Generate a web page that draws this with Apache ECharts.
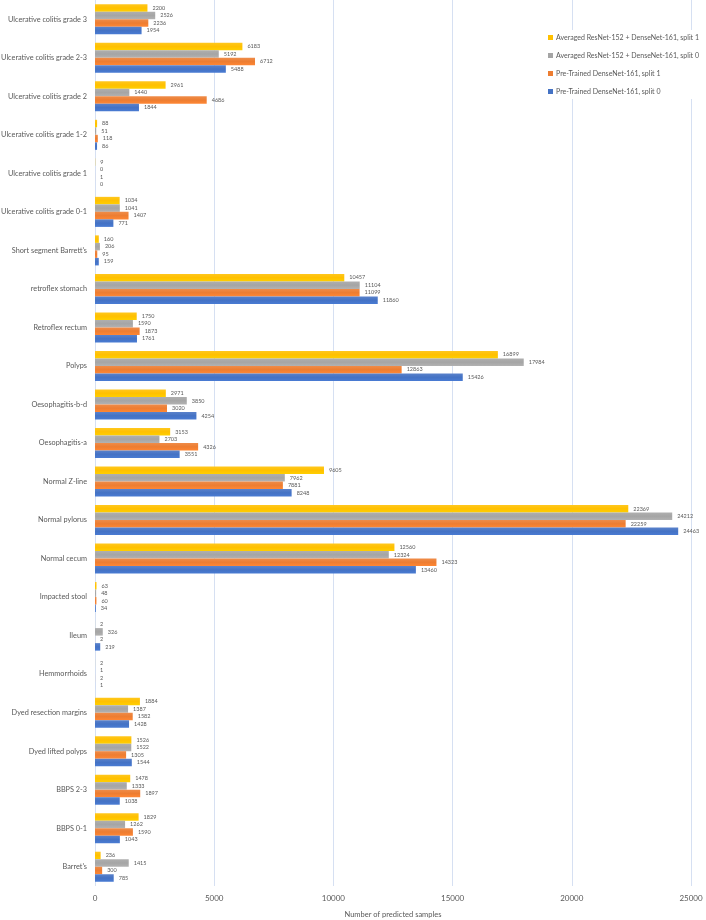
<!DOCTYPE html>
<html>
<head>
<meta charset="utf-8">
<script src="https://cdn.jsdelivr.net/npm/echarts@6/dist/echarts.min.js"></script>
<style>html,body{margin:0;padding:0;background:#fff}#c{width:706px;height:920px}</style>
</head>
<body>
<div id="c"></div>
<script>
const categories = ["Barret's","BBPS 0-1","BBPS 2-3","Dyed lifted polyps","Dyed resection margins","Hemmorrhoids","Ileum","Impacted stool","Normal cecum","Normal pylorus","Normal Z-line","Oesophagitis-a","Oesophagitis-b-d","Polyps","Retroflex rectum","retroflex stomach","Short segment Barrett's","Ulcerative colitis grade 0-1","Ulcerative colitis grade 1","Ulcerative colitis grade 1-2","Ulcerative colitis grade 2","Ulcerative colitis grade 2-3","Ulcerative colitis grade 3"];
const averagedSplit1 = [236,1829,1478,1526,1884,2,2,63,12560,22369,9605,3153,2971,16899,1750,10457,160,1034,9,88,2961,6183,2200];
const averagedSplit0 = [1415,1262,1333,1522,1387,1,326,48,12324,24212,7962,2703,3850,17984,1590,11104,206,1041,0,51,1440,5192,2526];
const pretrainedSplit1 = [300,1590,1897,1305,1582,2,2,60,14323,22259,7881,4326,3020,12863,1873,11099,95,1407,1,118,4686,6712,2236];
const pretrainedSplit0 = [785,1043,1038,1544,1428,1,219,34,13460,24463,8248,3551,4254,15426,1761,11860,159,771,0,86,1844,5488,1954];
const seriesNames = ["Averaged ResNet-152 + DenseNet-161, split 1","Averaged ResNet-152 + DenseNet-161, split 0","Pre-Trained DenseNet-161, split 1","Pre-Trained DenseNet-161, split 0"];
const xTicks = {min:0,max:25000,interval:5000};

const colors = ['#FFC000','#A5A5A5','#ED7D31','#4472C4'];
const datasets = [averagedSplit1, averagedSplit0, pretrainedSplit1, pretrainedSplit0];
const font = 'Lato, "Open Sans", sans-serif';

function grad(c){
  return new echarts.graphic.LinearGradient(0,0,0,1,[
    {offset:0,color:echarts.color.lift(c,0.12)},
    {offset:0.5,color:c},
    {offset:1,color:echarts.color.lift(c,-0.08)}
  ]);
}

const chart = echarts.init(document.getElementById('c'));
chart.setOption({
  animation:false,
  textStyle:{fontFamily:font},
  grid:{left:95,right:15,top:0,bottom:34,containLabel:false,outerBoundsMode:'none'},
  legend:{
    orient:'vertical',left:544,top:30,
    data:seriesNames.map((n,k)=>({name:n,itemStyle:{color:colors[k]}})),
    itemWidth:5,itemHeight:5,itemGap:11,
    icon:'rect',
    backgroundColor:'#fff',padding:[4,2,4,4],
    textStyle:{fontSize:7,color:'#595959',fontFamily:font,padding:[0,0,0,-2]}
  },
  xAxis:{
    type:'value',min:xTicks.min,max:xTicks.max,interval:xTicks.interval,
    name:'Number of predicted samples',nameLocation:'middle',nameGap:25,
    nameTextStyle:{fontSize:7.5,color:'#595959'},
    axisLine:{show:false},axisTick:{show:false},
    axisLabel:{fontSize:8,color:'#595959',margin:8,formatter:v=>String(v)},
    splitLine:{show:true,lineStyle:{color:'#D6E0F2',width:1}}
  },
  yAxis:{
    type:'category',data:categories,
    axisLine:{show:false},axisTick:{show:false},
    axisLabel:{fontSize:7.3,color:'#595959',margin:8}
  },
  series:datasets.map((d,i)=>({
    name:seriesNames[i],type:'bar',data:d,
    barGap:'0%',barCategoryGap:'22%',
    itemStyle:{color:grad(colors[i])},
    label:{show:true,position:'right',distance:5,fontSize:5.5,color:'#595959'}
  }))
});
</script>
</body>
</html>
